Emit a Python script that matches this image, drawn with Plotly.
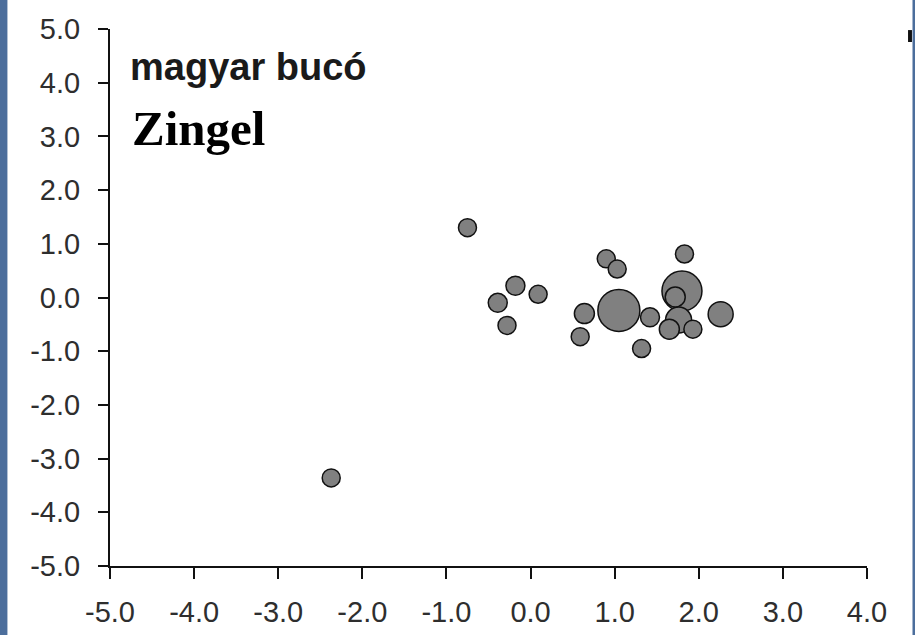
import plotly.graph_objects as go

# Data
x_vals = [-2.37, -0.75, -0.18, -0.39, 0.09, -0.28, 0.90, 1.03, 0.64, 0.59,
          1.05, 1.42, 1.32, 1.83, 1.80, 1.76, 1.72, 1.65, 1.93, 2.26]
y_vals = [-3.36, 1.30, 0.22, -0.10, 0.06, -0.52, 0.72, 0.53, -0.30, -0.73,
          -0.24, -0.37, -0.95, 0.81, 0.12, -0.42, 0.01, -0.59, -0.59, -0.31]
sizes = [18, 18, 19, 19, 18, 18, 18, 18, 20, 18,
         42, 19, 18, 18, 40, 26, 20, 20, 18, 25]

x_ticks = [-5, -4, -3, -2, -1, 0, 1, 2, 3, 4]
x_tick_labels = ["-5.0", "-4.0", "-3.0", "-2.0", "-1.0", "0.0", "1.0", "2.0", "3.0", "4.0"]
y_ticks = [5, 4, 3, 2, 1, 0, -1, -2, -3, -4, -5]
y_tick_labels = ["5.0", "4.0", "3.0", "2.0", "1.0", "0.0", "-1.0", "-2.0", "-3.0", "-4.0", "-5.0"]

title_1 = "magyar bucó"
title_2 = "Zingel"

fig = go.Figure()
fig.add_trace(go.Scatter(
    x=x_vals, y=y_vals, mode="markers",
    marker=dict(size=sizes, color="#808080", line=dict(color="#111111", width=1.5), opacity=1),
    showlegend=False, hoverinfo="skip",
))

tick_font = dict(family="Liberation Sans, Arial, sans-serif", size=29, color="#2e2e2e")

fig.update_layout(
    width=915, height=635,
    margin=dict(l=110, r=48, t=29, b=69, autoexpand=False),
    paper_bgcolor="white", plot_bgcolor="white",
    xaxis=dict(range=[-5, 4], tickvals=x_ticks, ticktext=x_tick_labels,
               showline=True, linecolor="#111111", linewidth=2,
               ticks="outside", ticklen=11, tickwidth=2, tickcolor="#111111",
               showgrid=False, zeroline=False, tickfont=tick_font,
               ticklabelstandoff=8, automargin=False),
    yaxis=dict(range=[-5, 5], tickvals=y_ticks, ticktext=y_tick_labels,
               showline=True, linecolor="#111111", linewidth=2,
               ticks="outside", ticklen=10, tickwidth=2, tickcolor="#111111",
               showgrid=False, zeroline=False, tickfont=tick_font,
               ticklabelstandoff=12, automargin=False),
)

fig.add_annotation(text="<b>" + title_1 + "</b>", xref="paper", yref="paper", x=0.024, y=0.929,
                   xanchor="left", yanchor="middle", showarrow=False,
                   font=dict(family="Liberation Sans, Arial, sans-serif", size=38, color="#1a1a1a"))
fig.add_annotation(text="<b>" + title_2 + "</b>", xref="paper", yref="paper", x=0.027, y=0.814,
                   xanchor="left", yanchor="middle", showarrow=False,
                   font=dict(family="Liberation Serif, Times New Roman, serif", size=49, color="#000000"))

# blue background stripes at the picture's edges and a small dark mark
fig.add_shape(type="rect", xref="paper", yref="paper", x0=-0.1460, x1=-0.1355, y0=-0.2, y1=1.2,
              fillcolor="#4c6e9c", line=dict(width=0), layer="above")
fig.add_shape(type="rect", xref="paper", yref="paper", x0=1.0601, x1=1.0650, y0=-0.2, y1=1.2,
              fillcolor="#4c6e9c", line=dict(width=0), layer="above")
fig.add_shape(type="rect", xref="paper", yref="paper", x0=1.0542, x1=1.0594, y0=0.9758, y1=0.998,
              fillcolor="#111111", line=dict(width=0), layer="above")

fig.write_html("out.html", config={"displayModeBar": False},
               post_script="document.body.style.margin='0';")
